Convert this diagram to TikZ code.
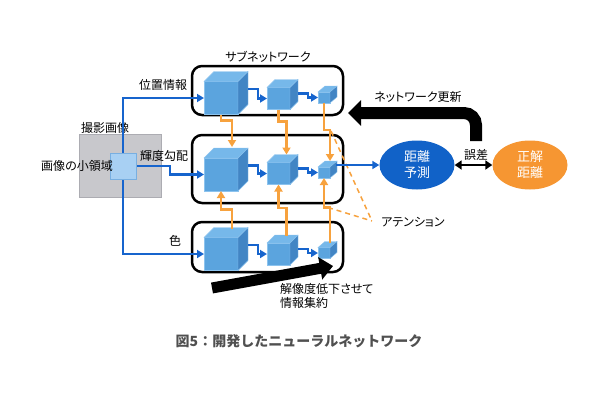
\documentclass[tikz,border=0pt]{standalone}
\usepackage{fontspec}
\setmainfont{Noto Sans CJK JP}[RawFeature=+palt]
\newfontfamily\capfont{Noto Sans CJK JP}
\usetikzlibrary{arrows.meta,calc,shapes.geometric}
\definecolor{lineblue}{RGB}{22,100,205}
\definecolor{predblue}{RGB}{17,98,200}
\definecolor{lineor}{RGB}{247,162,62}
\definecolor{ellor}{RGB}{246,150,50}
\definecolor{cubeF}{RGB}{91,164,222}
\definecolor{cubeT}{RGB}{118,184,234}
\definecolor{cubeS}{RGB}{66,133,196}
\definecolor{cubeE}{RGB}{140,195,238}
\definecolor{photogray}{RGB}{200,200,204}
\definecolor{photoedge}{RGB}{172,172,178}
\definecolor{sqfill}{RGB}{168,208,243}
\definecolor{sqedge}{RGB}{120,175,225}
\definecolor{captiongray}{RGB}{80,80,80}
\newcommand\mkcube[7]{%
  \node[cubefront, minimum width=#4pt, minimum height=#5pt] (#1) at (#2,#3) {};
  \filldraw[cubetop] (#1.north west) -- ++(#6,-#7) -- ++(#4,0) -- (#1.north east) -- cycle;
  \filldraw[cubeside] (#1.north east) -- ++(#6,-#7) -- ++(0,#5) -- (#1.south east) -- cycle;
}
\begin{document}
\begin{tikzpicture}[x=1pt,y=-1pt,
  lbl/.style={inner sep=0pt, font=\fontsize{12}{14}\selectfont},
  subbox/.style={draw=black, line width=2.5pt, rounded corners=10pt, inner sep=0pt, outer sep=0pt},
  cubefront/.style={fill=cubeF, draw=cubeE, line width=0.4pt, inner sep=0pt, outer sep=0pt},
  cubetop/.style={fill=cubeT, draw=cubeE, line width=0.4pt},
  cubeside/.style={fill=cubeS, draw=cubeE, line width=0.4pt},
  bluearr/.style={draw=lineblue, line width=2.5pt, -{Triangle[length=7pt,width=8pt]}},
  orarr/.style={draw=lineor, line width=2.5pt, -{Triangle[length=7pt,width=8pt]}},
  attline/.style={draw=lineor, line width=1.5pt, dash pattern=on 5pt off 4pt},
  bigarr/.style={draw=black, line width=12pt, -{Triangle[length=13pt,width=25pt]}},
  ell/.style={ellipse, minimum width=75pt, minimum height=49pt, inner sep=0pt, text=white, align=center, font=\fontsize{13}{16}\selectfont}
]
\useasboundingbox (0,0) rectangle (600,400);

% photo and region
\node[fill=photogray, draw=photoedge, line width=0.6pt, minimum width=82pt, minimum height=63pt, inner sep=0pt] (photo) at (120,165.5) {};
\node[lbl, anchor=west] (photolbl) at (81,128) {撮影画像};

% sub-network boxes
\node[subbox, minimum width=151pt, minimum height=49pt] (sn1) at (267.5,90.5) {};
\node[subbox, minimum width=151pt, minimum height=68pt] (sn2) at (267.5,169) {};
\node[subbox, minimum width=151pt, minimum height=50pt] (sn3) at (267.5,247) {};
\node[lbl] (sntitle) at (268,57) {サブネットワーク};

% cubes
\mkcube{t1}{221}{98}{34}{33}{10}{10}
\mkcube{t2}{278.5}{98.5}{23}{22}{8}{8}
\mkcube{t3}{324}{97.5}{12}{11}{7}{6}
\mkcube{m1}{221}{174.5}{34}{33}{10}{10}
\mkcube{m2}{278.5}{173.5}{23}{22}{8}{8}
\mkcube{m3}{324}{172.5}{12}{11}{7}{6}
\mkcube{b1}{221}{254}{34}{33}{10}{10}
\mkcube{b2}{278.5}{254}{23}{22}{8}{8}
\mkcube{b3}{324}{253}{12}{11}{7}{6}

% region square (node) for connectors
\node[minimum width=26pt, minimum height=26pt, inner sep=0pt, outer sep=0pt] (sq) at (123,166) {};

% input lines
\draw[bluearr] (sq.center) |- (t1.west);
\draw[bluearr] (sq.center) |- (b1.west);
\draw[bluearr] (sq.east) -- ++(34,0) |- (m1.west);
\node[fill=sqfill, draw=sqedge, line width=0.6pt, minimum width=26pt, minimum height=26pt, inner sep=0pt] at (sq) {};
\node[lbl, anchor=east] (regionlbl) at (113,166) {画像の小領域};

\node[lbl] (poslbl) at (163,85) {位置情報};
\node[lbl] (gradlbl) at (164,156) {輝度勾配};
\node[lbl] (collbl) at (175,241) {色};

% blue steps between cubes
\draw[bluearr] ($(t1.east)+(10,-9)$) -- ++(10,0) |- (t2.west);
\draw[bluearr] ($(t2.east)+(8,-5)$) -- ++(10,0) |- (t3.west);
\draw[bluearr] ($(m1.east)+(10,-9)$) -- ++(10,0) |- (m2.west);
\draw[bluearr] ($(m2.east)+(8,-5)$) -- ++(10,0) |- (m3.west);
\draw[bluearr] ($(b1.east)+(10,-9)$) -- ++(10,0) |- (b2.west);
\draw[bluearr] ($(b2.east)+(8,-5)$) -- ++(10,0) |- (b3.west);

% orange arrows
\draw[orarr] (t1.south) -- ++(0,6) -| ($(m1.north)+(11,-11)$);
\draw[orarr] (t2.south) -- ++(0,12) -| ($(m2.north)+(8,-8)$);
\draw[orarr] (t3.south) -- ++(0,27) -| ($(m3.north)+(6,-6)$);
\draw[orarr] ($(b1.north)+(11,-9)$) -- ($(b1.north)+(11,-28)$) -| (m1.south);
\draw[orarr] ($(b2.north)+(8,-7)$) -- ($(b2.north)+(8,-35)$) -| (m2.south);
\draw[orarr] ($(b3.north)+(6,-5)$) -- ($(b3.north)+(6,-40)$) -| (m3.south);

% attention
\coordinate (att) at (372,221);
\draw[attline] ($(t3.south)+(7,28)$) -- (att);
\draw[attline] ($(b3.north)+(4,-40)$) -- (att);
\node[lbl, anchor=west] (attlbl) at (381,222) {アテンション};

% prediction and ground truth
\node[ell, fill=predblue] (pred) at (417,165) {距離\\予測};
\node[ell, fill=ellor] (gt) at (530,165) {正解\\距離};
\draw[bluearr] ($(m3.east)+(6,-7.5)$) -- (pred.west);
\draw[line width=2.5pt, {Triangle[length=7pt,width=9pt]}-{Triangle[length=7pt,width=9pt]}] (pred.east) -- (gt.west);
\node[lbl] (errlbl) at (476,155) {誤差};

% network update arrow
\coordinate (upd) at (476,141);
\draw[bigarr, rounded corners=12pt] (upd) |- ($(sn1.south east)+(5,-2)$);
\node[lbl] (updlbl) at (418,97) {ネットワーク更新};

% resolution arrow
\coordinate (rs) at (212,288);
\coordinate (re) at (333,266);
\draw[draw=black, line width=11pt, -{Triangle[length=13pt,width=22pt]}] (rs) -- (re);
\node[lbl, anchor=west, align=left] (reslbl) at (280,296) {解像度低下させて\\情報集約};

% caption
\node[inner sep=0pt, font=\capfont\bfseries\fontsize{14}{16}\selectfont, text=captiongray] (caption) at (299,341) {図5：開発したニューラルネットワーク};
\end{tikzpicture}
\end{document}
